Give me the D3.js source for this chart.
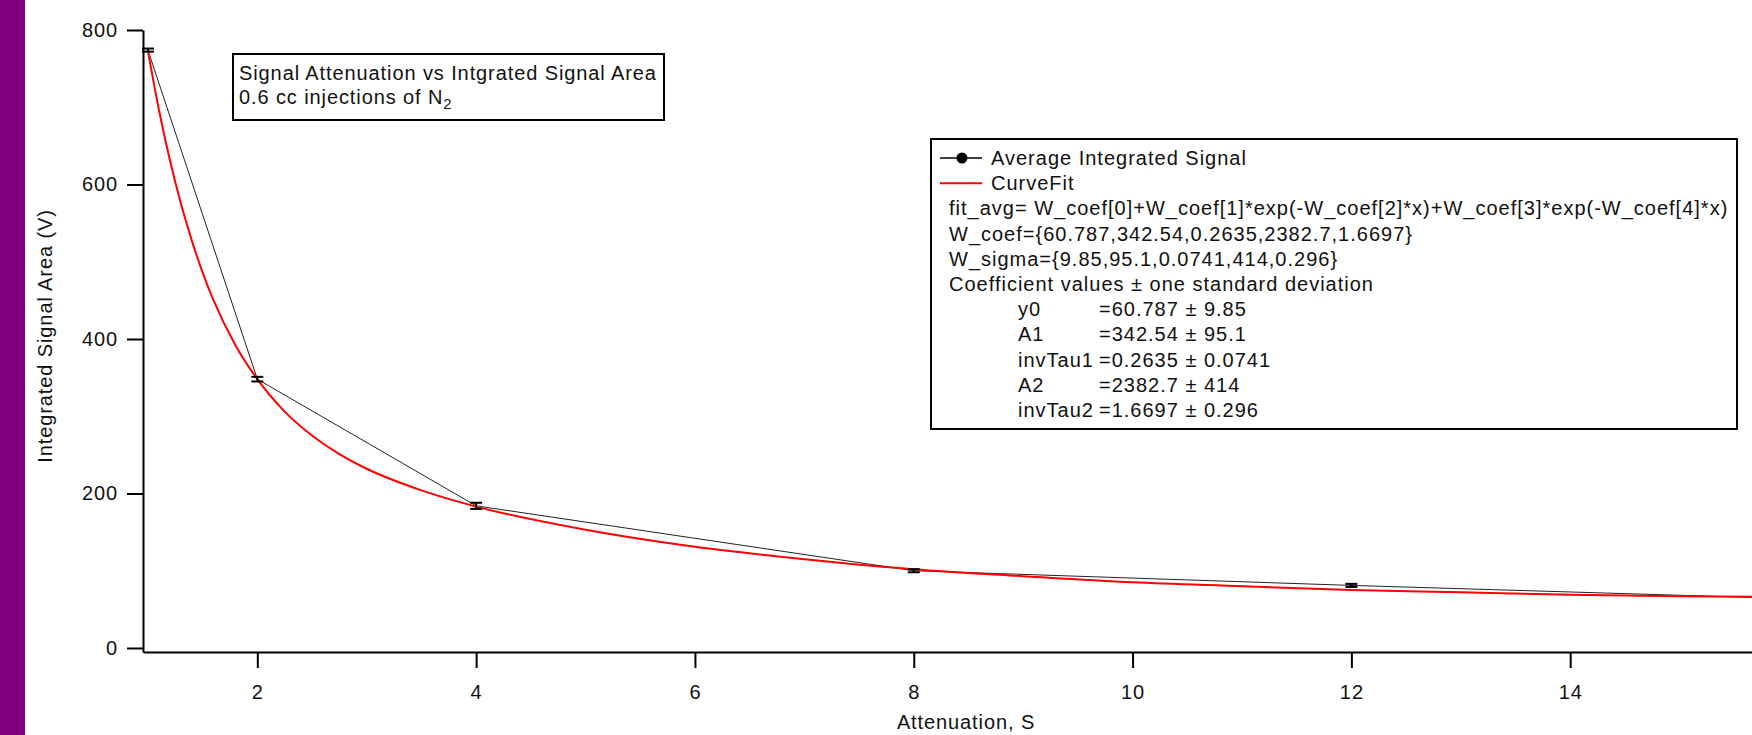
<!DOCTYPE html>
<html>
<head>
<meta charset="utf-8">
<script src="https://d3js.org/d3.v7.min.js"></script>
<style>
  html, body { margin: 0; padding: 0; background: #fff; overflow: hidden; }
  svg text { font-family: "Liberation Sans", Arial, sans-serif; fill: #111; letter-spacing: 0.9px; }
  svg text.leg { letter-spacing: 1.0px; }
</style>
</head>
<body>
<svg id="chart"></svg>
<script>
// --- data ---
const attenuation = [1, 2, 4, 8, 12, 16];
const avgSignal   = [774, 348, 184, 100, 81, 64];
const signalErr   = [2, 3, 4, 2, 2, 2];

// red fit curve, sampled along the drawn line
const fitX = [1, 1.1, 1.2, 1.3, 1.4, 1.5, 1.6, 1.8, 2, 2.25, 2.5, 2.75, 3, 3.5, 4, 5, 6, 7, 8, 9, 10, 11, 12, 13, 14, 15, 16];
const fitY = [773, 697, 632, 576, 528, 486, 450, 392, 348, 306, 275, 251, 232, 204, 183, 153, 131, 115, 102, 93, 85, 80, 75, 72, 69, 67, 66];

const xTicks = [2, 4, 6, 8, 10, 12, 14];
const yTicks = [0, 200, 400, 600, 800];

const titleLines = ["Signal Attenuation vs Intgrated Signal Area", "0.6 cc injections of N"];
const seriesNames = ["Average Integrated Signal", "CurveFit"];
const fitInfo = [
  "fit_avg= W_coef[0]+W_coef[1]*exp(-W_coef[2]*x)+W_coef[3]*exp(-W_coef[4]*x)",
  "W_coef={60.787,342.54,0.2635,2382.7,1.6697}",
  "W_sigma={9.85,95.1,0.0741,414,0.296}",
  "Coefficient values \u00b1 one standard deviation"
];
const coefNames  = ["y0", "A1", "invTau1", "A2", "invTau2"];
const coefValues = ["=60.787 \u00b1 9.85", "=342.54 \u00b1 95.1", "=0.2635 \u00b1 0.0741", "=2382.7 \u00b1 414", "=1.6697 \u00b1 0.296"];

// --- layout ---
const W = 1752, H = 735;
const svg = d3.select("#chart").attr("width", W).attr("height", H);

// purple strip on the left
svg.append("rect").attr("x", 0).attr("y", 0).attr("width", 25).attr("height", H).attr("fill", "#800080");

// the x axis runs on past the right edge of the window (to 16)
const x = d3.scaleLinear().domain([0.955, 16]).range([143, 1789]);
const y = d3.scaleLinear().domain([-5.2, 800]).range([652, 30]);

// axes
const yAxis = svg.append("g")
  .attr("transform", `translate(${x.range()[0]},0)`)
  .call(d3.axisLeft(y).tickValues(yTicks).tickSize(16).tickPadding(9).tickSizeOuter(0));

const xAxis = svg.append("g")
  .attr("transform", `translate(0,${y.range()[0]})`)
  .call(d3.axisBottom(x).tickValues(xTicks).tickSize(16).tickPadding(17).tickSizeOuter(0));

[yAxis, xAxis].forEach(ax => {
  ax.select(".domain").attr("stroke", "#000").attr("stroke-width", 2);
  ax.selectAll(".tick line").attr("stroke", "#000").attr("stroke-width", 2);
  ax.selectAll(".tick text").style("font-size", "20px").attr("fill", "#111");
});

// axis titles
svg.append("text")
  .attr("transform", "translate(52,336) rotate(-90)")
  .attr("text-anchor", "middle")
  .style("font-size", "20px")
  .text("Integrated Signal Area (V)");

svg.append("text")
  .attr("x", 966).attr("y", 729)
  .attr("text-anchor", "middle")
  .style("font-size", "20px")
  .text("Attenuation, S");

// data series
const pts = attenuation.map((a, i) => ({ x: a, y: avgSignal[i], e: signalErr[i] }));
const fit = fitX.map((a, i) => ({ x: a, y: fitY[i] }));

svg.append("path")
  .datum(pts)
  .attr("fill", "none")
  .attr("stroke", "#222")
  .attr("stroke-width", 1)
  .attr("d", d3.line().x(d => x(d.x)).y(d => y(d.y)));

svg.append("path")
  .datum(fit)
  .attr("fill", "none")
  .attr("stroke", "#ff0000")
  .attr("stroke-width", 2)
  .attr("d", d3.line().curve(d3.curveMonotoneX).x(d => x(d.x)).y(d => y(d.y)));

// error bars
const eb = svg.append("g").attr("stroke", "#000").attr("stroke-width", 2);
pts.forEach(d => {
  const cx = x(d.x);
  eb.append("line").attr("x1", cx).attr("x2", cx).attr("y1", y(d.y + d.e)).attr("y2", y(d.y - d.e));
  [d.y + d.e, d.y - d.e].forEach(v => {
    eb.append("line").attr("x1", cx - 6).attr("x2", cx + 6).attr("y1", y(v)).attr("y2", y(v));
  });
});

// title box
svg.append("rect").attr("x", 233).attr("y", 54).attr("width", 431).attr("height", 66)
  .attr("fill", "#fff").attr("stroke", "#000").attr("stroke-width", 2);
svg.append("text").attr("x", 239).attr("y", 80).style("font-size", "20px").text(titleLines[0]);
const t2 = svg.append("text").attr("x", 239).attr("y", 104).style("font-size", "20px").text(titleLines[1]);
t2.append("tspan").attr("dy", 5).style("font-size", "15px").text("2");

// legend box
svg.append("rect").attr("x", 931).attr("y", 139).attr("width", 806).attr("height", 290)
  .attr("fill", "#fff").attr("stroke", "#000").attr("stroke-width", 2);

const rowY = i => 165 + i * 25.2;

// series symbols
svg.append("line").attr("x1", 940).attr("x2", 982).attr("y1", rowY(0) - 7).attr("y2", rowY(0) - 7)
  .attr("stroke", "#000").attr("stroke-width", 1.5);
svg.append("circle").attr("cx", 962).attr("cy", rowY(0) - 7).attr("r", 5.5).attr("fill", "#000");
svg.append("line").attr("x1", 940).attr("x2", 982).attr("y1", rowY(1) - 7).attr("y2", rowY(1) - 7)
  .attr("stroke", "#ff0000").attr("stroke-width", 2);

seriesNames.forEach((s, i) => {
  svg.append("text").attr("class", "leg").attr("x", 991).attr("y", rowY(i)).style("font-size", "20px").text(s);
});
fitInfo.forEach((s, i) => {
  svg.append("text").attr("class", "leg").attr("x", 949).attr("y", rowY(i + 2)).style("font-size", "20px").text(s);
});
coefNames.forEach((s, i) => {
  svg.append("text").attr("class", "leg").attr("x", 1018).attr("y", rowY(i + 6)).style("font-size", "20px").text(s);
  svg.append("text").attr("class", "leg").attr("x", 1099).attr("y", rowY(i + 6)).style("font-size", "20px").text(coefValues[i]);
});
</script>
</body>
</html>
